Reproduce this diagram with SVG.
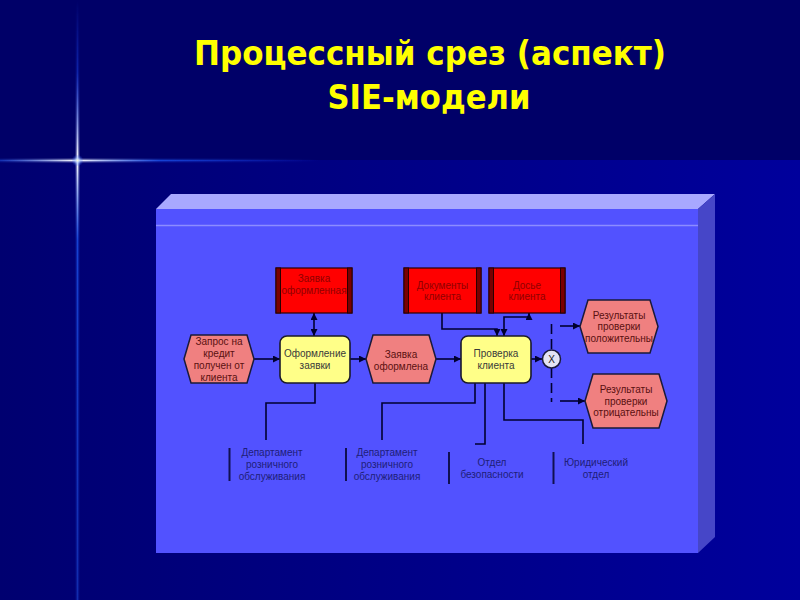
<svg xmlns="http://www.w3.org/2000/svg" width="800" height="600" viewBox="0 0 800 600">
<defs>
  <linearGradient id="bgLow" x1="0" y1="0" x2="1" y2="0">
    <stop offset="0" stop-color="#000070"/>
    <stop offset="1" stop-color="#00009c"/>
  </linearGradient>
  <linearGradient id="vGlow" gradientUnits="userSpaceOnUse" x1="0" y1="0" x2="0" y2="600">
    <stop offset="0" stop-color="#2050ff" stop-opacity="0"/>
    <stop offset="0.12" stop-color="#2050ff" stop-opacity="0.35"/>
    <stop offset="0.267" stop-color="#ffffff" stop-opacity="1"/>
    <stop offset="0.4" stop-color="#2060ff" stop-opacity="0.6"/>
    <stop offset="1" stop-color="#2050e0" stop-opacity="0.45"/>
  </linearGradient>
  <linearGradient id="hGlow" gradientUnits="userSpaceOnUse" x1="0" y1="0" x2="320" y2="0">
    <stop offset="0" stop-color="#2050e0" stop-opacity="0.5"/>
    <stop offset="0.24" stop-color="#ffffff" stop-opacity="1"/>
    <stop offset="0.5" stop-color="#2060ff" stop-opacity="0.6"/>
    <stop offset="1" stop-color="#2050ff" stop-opacity="0"/>
  </linearGradient>
  <radialGradient id="starGlow">
    <stop offset="0" stop-color="#ffffe0" stop-opacity="1"/>
    <stop offset="0.4" stop-color="#a0c0ff" stop-opacity="0.6"/>
    <stop offset="1" stop-color="#2050ff" stop-opacity="0"/>
  </radialGradient>
  <marker id="arr" viewBox="0 0 10 10" refX="10" refY="5" markerWidth="7" markerHeight="7" orient="auto" markerUnits="userSpaceOnUse">
    <path d="M0,0 L10,5 L0,10 z" fill="#000030"/>
  </marker>
  <marker id="arrS" viewBox="0 0 10 10" refX="0" refY="5" markerWidth="7" markerHeight="7" orient="auto" markerUnits="userSpaceOnUse">
    <path d="M10,0 L0,5 L10,10 z" fill="#000030"/>
  </marker>
  <style>
    .title { font-family: "DejaVu Sans", "Liberation Sans", sans-serif; font-weight: bold; font-size: 34px; fill: #ffff00; text-anchor: middle; }
    .t { font-family: "Liberation Sans", Arial, sans-serif; font-size: 10px; text-anchor: middle; }
    .ev { fill: #f08080; stroke: #1a1a3a; stroke-width: 1.5; }
    .evt { fill: #5a1010; }
    .fn { fill: #ffff88; stroke: #1a1a2a; stroke-width: 1.6; }
    .fnt { fill: #3a3a3a; }
    .doc { fill: #ff0000; stroke: #2a0000; stroke-width: 1.2; }
    .stripe { fill: #7a0000; stroke: #2a0000; stroke-width: 1; }
    .doct { fill: #900000; }
    .org { fill: #1e1e78; }
    .bar { stroke: #101050; stroke-width: 2; }
    .conn { fill: none; stroke: #000030; stroke-width: 1.6; }
    .dash { fill: none; stroke: #000030; stroke-width: 1.6; stroke-dasharray: 10,5; }
  </style>
</defs>

<!-- background -->
<rect x="0" y="0" width="800" height="600" fill="#000068"/>
<rect x="0" y="160" width="800" height="440" fill="url(#bgLow)"/>

<!-- star flare -->
<g id="flare">
  <line x1="77.5" y1="0" x2="77.5" y2="600" stroke="url(#vGlow)" stroke-width="4" opacity="0.35"/>
  <line x1="77.5" y1="0" x2="77.5" y2="600" stroke="url(#vGlow)" stroke-width="1.6"/>
  <line x1="0" y1="160.5" x2="320" y2="160.5" stroke="url(#hGlow)" stroke-width="4" opacity="0.35"/>
  <line x1="0" y1="160.5" x2="320" y2="160.5" stroke="url(#hGlow)" stroke-width="1.6"/>
  <circle cx="77.5" cy="160.5" r="6" fill="url(#starGlow)"/>
</g>

<!-- title -->
<g id="title">
  <text class="title" x="430" y="65" textLength="472" lengthAdjust="spacingAndGlyphs">Процессный срез (аспект)</text>
  <text class="title" x="429" y="109" textLength="203" lengthAdjust="spacingAndGlyphs">SIE-модели</text>
</g>

<!-- 3D panel -->
<g id="panel">
  <polygon points="156,209 171,194 715,194 698,209" fill="#a8a8ff"/>
  <polygon points="698,209 715,194 715,537 698,553" fill="#4646c8"/>
  <rect x="156" y="209" width="542" height="344" fill="#5252ff"/>
  <line x1="156" y1="225.5" x2="698" y2="225.5" stroke="#8c8cff" stroke-width="1.6"/>
</g>

<!-- connectors -->
<g id="connectors">
  <line class="conn" x1="254" y1="359" x2="276" y2="359"/>
  <line class="conn" x1="274" y1="359" x2="280" y2="359" marker-end="url(#arr)" stroke-width="0"/>
  <line class="conn" x1="350" y1="359" x2="366" y2="359" marker-end="url(#arr)"/>
  <line class="conn" x1="436" y1="359" x2="456" y2="359"/>
  <line class="conn" x1="454" y1="359" x2="461" y2="359" marker-end="url(#arr)" stroke-width="0"/>
  <line class="conn" x1="531" y1="359" x2="542" y2="359" marker-end="url(#arr)"/>
  <line class="conn" x1="314" y1="313" x2="314" y2="336" marker-start="url(#arrS)" marker-end="url(#arr)"/>
  <path class="conn" d="M442,313 V329 H497 V336" marker-end="url(#arr)"/>
  <path class="conn" d="M504,336 V317 H529 V313" marker-start="url(#arrS)" marker-end="url(#arr)"/>
  <path class="dash" d="M551.5,324 V350"/>
  <path class="dash" d="M551.5,368 V402"/>
  <line class="conn" x1="560" y1="326" x2="580" y2="326" marker-end="url(#arr)"/>
  <line class="conn" x1="560" y1="401" x2="585" y2="401" marker-end="url(#arr)"/>
  <path class="conn" d="M315,383 V403 H266 V440"/>
  <path class="conn" d="M475,383 V403 H382 V440"/>
  <path class="conn" d="M485,383 V444 H475"/>
  <path class="conn" d="M504,383 V420 H583 V444"/>
</g>

<!-- event: Запрос на кредит получен от клиента -->
<g id="ev-request">
  <polygon class="ev" points="184,359 191,335 247,335 254,359 247,383 191,383"/>
  <text class="t evt" x="219" y="345">Запрос на</text>
  <text class="t evt" x="219" y="357">кредит</text>
  <text class="t evt" x="219" y="369">получен от</text>
  <text class="t evt" x="219" y="381">клиента</text>
</g>

<!-- function: Оформление заявки -->
<g id="fn-form">
  <rect class="fn" x="280" y="336" width="70" height="47" rx="7"/>
  <text class="t fnt" x="315" y="357">Оформление</text>
  <text class="t fnt" x="315" y="369">заявки</text>
</g>

<!-- doc: Заявка оформленная -->
<g id="doc-app">
  <rect class="doc" x="276" y="268" width="76" height="45"/>
  <rect class="stripe" x="276" y="268" width="4.5" height="45"/>
  <rect class="stripe" x="347.5" y="268" width="4.5" height="45"/>
  <text class="t doct" x="314" y="282">Заявка</text>
  <text class="t doct" x="314" y="294">оформленная</text>
</g>

<!-- event: Заявка оформлена -->
<g id="ev-app">
  <polygon class="ev" points="366,359 373,335 429,335 436,359 429,383 373,383"/>
  <text class="t evt" x="401" y="357.5">Заявка</text>
  <text class="t evt" x="401" y="369.5">оформлена</text>
</g>

<!-- function: Проверка клиента -->
<g id="fn-check">
  <rect class="fn" x="461" y="336" width="70" height="47" rx="7"/>
  <text class="t fnt" x="496" y="357">Проверка</text>
  <text class="t fnt" x="496" y="369">клиента</text>
</g>

<!-- doc: Документы клиента -->
<g id="doc-docs">
  <rect class="doc" x="404" y="268" width="77" height="45"/>
  <rect class="stripe" x="404" y="268" width="4.5" height="45"/>
  <rect class="stripe" x="476.5" y="268" width="4.5" height="45"/>
  <text class="t doct" x="442.5" y="288.5">Документы</text>
  <text class="t doct" x="442.5" y="300">клиента</text>
</g>

<!-- doc: Досье клиента -->
<g id="doc-dossier">
  <rect class="doc" x="489" y="268" width="76" height="45"/>
  <rect class="stripe" x="489" y="268" width="4.5" height="45"/>
  <rect class="stripe" x="560.5" y="268" width="4.5" height="45"/>
  <text class="t doct" x="527" y="288.5">Досье</text>
  <text class="t doct" x="527" y="300">клиента</text>
</g>

<!-- XOR -->
<g id="xor">
  <circle cx="551.5" cy="359" r="9" fill="#e4e4f4" stroke="#1a1a3a" stroke-width="1.5"/>
  <text class="t" x="551.5" y="362.5" fill="#202020">X</text>
</g>

<!-- event: positive -->
<g id="ev-pos">
  <polygon class="ev" points="580,326.5 588,300 650,300 658,326.5 650,353 588,353"/>
  <text class="t evt" x="619" y="318.5">Результаты</text>
  <text class="t evt" x="619" y="330">проверки</text>
  <text class="t evt" x="619" y="341.5">положительны</text>
</g>

<!-- event: negative -->
<g id="ev-neg">
  <polygon class="ev" points="585,401 593,374 659,374 667,401 659,428 593,428"/>
  <text class="t evt" x="626" y="393">Результаты</text>
  <text class="t evt" x="626" y="404.5">проверки</text>
  <text class="t evt" x="626" y="416">отрицательны</text>
</g>

<!-- org units -->
<g id="org-retail-1">
  <line class="bar" x1="229.5" y1="448" x2="229.5" y2="481"/>
  <text class="t org" x="272" y="456">Департамент</text>
  <text class="t org" x="272" y="467.5">розничного</text>
  <text class="t org" x="272" y="479.5">обслуживания</text>
</g>
<g id="org-retail-2">
  <line class="bar" x1="346" y1="448" x2="346" y2="481"/>
  <text class="t org" x="387" y="456">Департамент</text>
  <text class="t org" x="387" y="467.5">розничного</text>
  <text class="t org" x="387" y="479.5">обслуживания</text>
</g>
<g id="org-security">
  <line class="bar" x1="449" y1="452" x2="449" y2="484"/>
  <text class="t org" x="492" y="466">Отдел</text>
  <text class="t org" x="492" y="478">безопасности</text>
</g>
<g id="org-legal">
  <line class="bar" x1="553.5" y1="452" x2="553.5" y2="484"/>
  <text class="t org" x="596" y="466">Юридический</text>
  <text class="t org" x="596" y="478">отдел</text>
</g>
</svg>
